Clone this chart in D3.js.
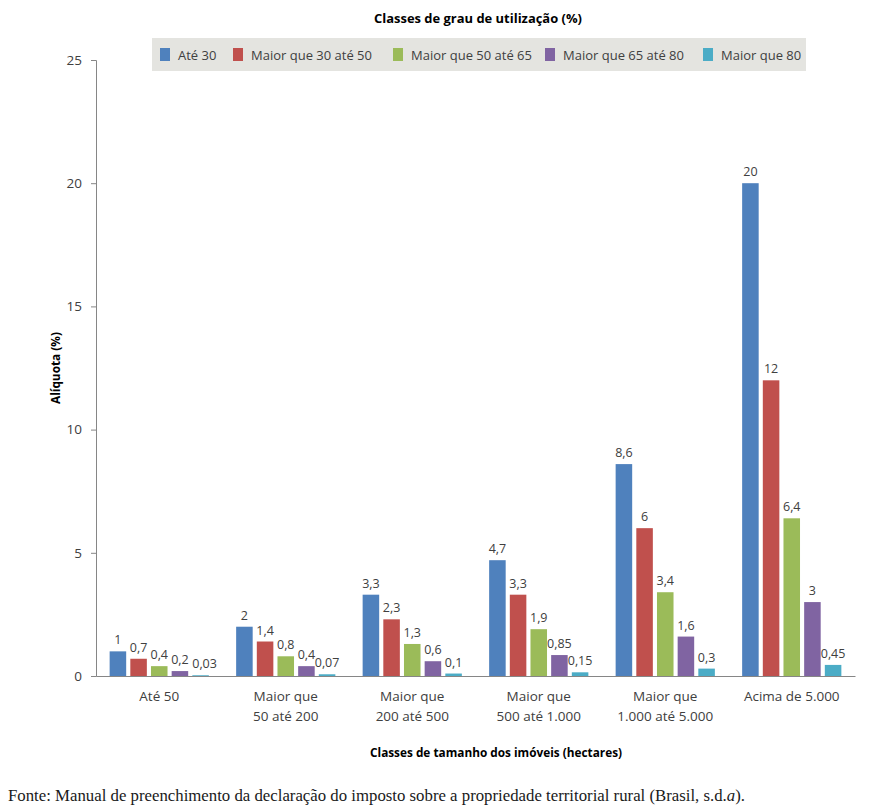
<!DOCTYPE html>
<html>
<head>
<meta charset="utf-8">
<script src="https://cdn.jsdelivr.net/npm/d3@7"></script>
<style>
  html, body { margin: 0; padding: 0; background: #fff; }
  svg { display: block; }
</style>
</head>
<body>
<div id="chart"></div>
<script>
// ---- Data ----
const categories = [
  ["Até 50"],
  ["Maior que", "50 até 200"],
  ["Maior que", "200 até 500"],
  ["Maior que", "500 até 1.000"],
  ["Maior que", "1.000 até 5.000"],
  ["Acima de 5.000"]
];
const seriesNames = ["Até 30", "Maior que 30 até 50", "Maior que 50 até 65", "Maior que 65 até 80", "Maior que 80"];
const ate30      = [1, 2, 3.3, 4.7, 8.6, 20];
const de30a50    = [0.7, 1.4, 2.3, 3.3, 6, 12];
const de50a65    = [0.4, 0.8, 1.3, 1.9, 3.4, 6.4];
const de65a80    = [0.2, 0.4, 0.6, 0.85, 1.6, 3];
const maior80    = [0.03, 0.07, 0.1, 0.15, 0.3, 0.45];
const seriesValues = [ate30, de30a50, de50a65, de65a80, maior80];
const yTicks = [0, 5, 10, 15, 20, 25];
const colors = ["#4F81BD", "#C0504D", "#9BBB59", "#8064A2", "#4BACC6"];

const W = 886, H = 810;
const svg = d3.select("#chart").append("svg").attr("width", W).attr("height", H);

const sans = "'Open Sans', 'Noto Sans', sans-serif";
const textColor = "#404040";

const mLeft = 96, mRight = 855, mTop = 60, mBottom = 676;

const x0 = d3.scaleBand().domain(d3.range(categories.length)).range([mLeft, mRight]).padding(0);
const x1 = d3.scaleBand().domain(d3.range(seriesNames.length)).range([0, x0.bandwidth()])
  .paddingInner(0.2).paddingOuter(0.66);
const y = d3.scaleLinear().domain([0, 25]).range([mBottom, mTop]);

// Title
svg.append("text").attr("x", 478).attr("y", 23).attr("text-anchor", "middle")
  .attr("font-family", sans).attr("font-weight", "bold").attr("font-size", 12.5)
  .attr("fill", "#000").attr("textLength", 208).attr("lengthAdjust", "spacingAndGlyphs")
  .text("Classes de grau de utilização (%)");

// Legend
const lg = svg.append("g");
lg.append("rect").attr("x", 152).attr("y", 38).attr("width", 654).attr("height", 33).attr("fill", "#E4E4E0");
const legendX = [160, 233, 393, 545, 703];
seriesNames.forEach((name, i) => {
  lg.append("rect").attr("x", legendX[i]).attr("y", 48).attr("width", 10).attr("height", 13).attr("fill", colors[i]);
  lg.append("text").attr("x", legendX[i] + 18).attr("y", 59.5)
    .attr("font-family", sans).attr("font-size", 13).attr("fill", textColor).text(name);
});

// Y axis
const yAxis = d3.axisLeft(y).tickValues(yTicks).tickSize(5).tickPadding(9);
const gy = svg.append("g").attr("transform", `translate(${mLeft},0)`).call(yAxis);
gy.select(".domain").attr("stroke", "#868686");
gy.selectAll(".tick line").attr("stroke", "#868686");
gy.selectAll(".tick text").attr("font-family", sans).attr("font-size", 13.5).attr("fill", textColor);

// X axis line
const xAxis = d3.axisBottom(x0).tickSize(0).tickFormat("");
const gx = svg.append("g").attr("transform", `translate(0,${mBottom})`).call(xAxis);
gx.select(".domain").attr("stroke", "#868686");

// Category labels
categories.forEach((lines, ci) => {
  const cx = x0(ci) + x0.bandwidth() / 2;
  const t = svg.append("text").attr("text-anchor", "middle")
    .attr("font-family", sans).attr("font-size", 13.5).attr("fill", textColor);
  lines.forEach((ln, li) => {
    t.append("tspan").attr("x", cx).attr("y", 701 + li * 20).text(ln);
  });
});

// Bars
const fmt = v => String(v).replace(".", ",");
seriesValues.forEach((vals, si) => {
  const g = svg.append("g");
  g.selectAll("rect").data(vals).join("rect")
    .attr("x", (d, ci) => x0(ci) + x1(si))
    .attr("y", d => y(d))
    .attr("width", x1.bandwidth())
    .attr("height", d => y(0) - y(d))
    .attr("fill", colors[si]);
  g.selectAll("text").data(vals).join("text")
    .attr("x", (d, ci) => x0(ci) + x1(si) + x1.bandwidth() / 2 + (si === 4 && ci === 0 ? 4 : 0))
    .attr("y", d => y(d) - 7)
    .attr("text-anchor", "middle")
    .attr("font-family", sans).attr("font-size", 12.5).attr("fill", textColor)
    .text(d => fmt(d));
});

// Y axis title
svg.append("text").attr("transform", "translate(60,368) rotate(-90)").attr("text-anchor", "middle")
  .attr("font-family", sans).attr("font-weight", "bold").attr("font-size", 12.5).attr("fill", "#000")
  .attr("textLength", 72).attr("lengthAdjust", "spacingAndGlyphs")
  .text("Alíquota (%)");

// X axis title
svg.append("text").attr("x", 496).attr("y", 757).attr("text-anchor", "middle")
  .attr("font-family", sans).attr("font-weight", "bold").attr("font-size", 12.5).attr("fill", "#000")
  .attr("textLength", 252).attr("lengthAdjust", "spacingAndGlyphs")
  .text("Classes de tamanho dos imóveis (hectares)");

// Source
const src = svg.append("text").attr("x", 8).attr("y", 801)
  .attr("font-family", "'Liberation Serif', 'DejaVu Serif', serif").attr("font-size", 16.5).attr("fill", "#1a1a1a")
  .attr("textLength", 737).attr("lengthAdjust", "spacingAndGlyphs");
src.append("tspan").text("Fonte: Manual de preenchimento da declaração do imposto sobre a propriedade territorial rural (Brasil, s.d.");
src.append("tspan").attr("font-style", "italic").text("a");
src.append("tspan").text(").");
</script>
</body>
</html>
